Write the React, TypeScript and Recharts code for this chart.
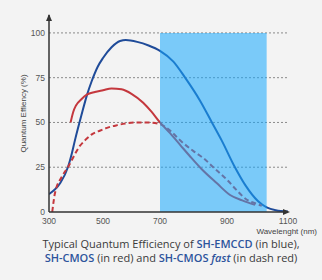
import React from 'react';
import { LineChart, Line, XAxis, YAxis, CartesianGrid, ReferenceArea, ReferenceDot } from 'recharts';

const wavelengthTicks = [300, 500, 700, 900, 1100];
const qeTicks = [0, 25, 50, 75, 100];

// SH-EMCCD (blue)
const emccdNm = [300, 341, 370, 385, 396, 420, 440, 458, 480, 500, 530, 560, 580, 620, 660, 700, 740, 775, 820, 855, 884, 926, 960, 1002, 1030, 1060, 1100];
const emccdQe = [10, 16, 25, 33, 40, 54, 65, 73, 81, 86, 92, 95.5, 96, 95, 93, 90, 84, 75, 62, 50, 40, 25, 15, 6, 2.6, 1, 0.3];

// SH-CMOS (red)
const cmosNm = [380, 390, 400, 420, 440, 470, 500, 530, 565, 600, 641, 670, 700, 730, 760, 790, 824, 870, 910, 950, 992];
const cmosQe = [50, 56, 59.5, 63, 65.5, 67, 68, 69, 68.5, 66, 61, 56, 50, 44, 37.5, 31, 24, 16, 9.5, 6.5, 4];

// SH-CMOS fast (dash red)
const fastNm = [312, 322, 347, 370, 415, 433, 460, 490, 514, 550, 578, 620, 658, 700, 730, 760, 800, 830, 859, 900, 930, 964, 990, 1014];
const fastQe = [0, 10.5, 19.5, 25, 37, 40, 43.5, 45.5, 47, 48.5, 49.4, 50, 50, 49, 45.5, 40, 34, 30, 25, 18, 12.5, 7, 5, 3.5];

// highlighted band
const bandNm = [700, 1030];

const toPoints = (nm: number[], qe: number[]) => nm.map((x, i) => ({ nm: x, qe: qe[i] }));

// labels on the original axis are not evenly spaced
const tickGaps = [54, 57, 67, 61];

function unevenScale(): any {
  let dom = [wavelengthTicks[0], wavelengthTicks[wavelengthTicks.length - 1]];
  let rng = [0, 1];
  const total = tickGaps.reduce((a, b) => a + b, 0);
  const s: any = (v: number) => {
    let i = 0;
    while (i < tickGaps.length - 1 && v > wavelengthTicks[i + 1]) i++;
    const before = tickGaps.slice(0, i).reduce((a, b) => a + b, 0);
    const t = (before + ((v - wavelengthTicks[i]) / (wavelengthTicks[i + 1] - wavelengthTicks[i])) * tickGaps[i]) / total;
    return rng[0] + t * (rng[1] - rng[0]);
  };
  s.domain = (d?: number[]) => {
    if (!d) return dom;
    dom = d;
    return s;
  };
  s.range = (r?: number[]) => {
    if (!r) return rng;
    rng = r;
    return s;
  };
  s.copy = () => unevenScale().domain(dom).range(rng);
  s.ticks = () => wavelengthTicks;
  return s;
}

const xScale = unevenScale();

const tickStyle = { fill: '#555', fontSize: 8.5, fontFamily: '"Liberation Sans", Arial, sans-serif' };

const UpArrow = (p: any) => (
  <path d={`M${p.cx - 3},${p.cy + 6} L${p.cx},${p.cy - 1} L${p.cx + 3},${p.cy + 6} Z`} fill="#333" />
);
const RightArrow = (p: any) => (
  <path d={`M${p.cx - 5},${p.cy - 3} L${p.cx + 2},${p.cy} L${p.cx - 5},${p.cy + 3} Z`} fill="#333" />
);

const XLabel = (props: any) => {
  const { viewBox } = props;
  return (
    <text
      x={viewBox.x + viewBox.width + 29}
      y={viewBox.y + 22}
      textAnchor="end"
      fill="#444"
      fontSize={8}
      fontFamily='"Liberation Sans", Arial, sans-serif'
    >
      Wavelenght (nm)
    </text>
  );
};

const blueText = { color: '#2d549c', fontWeight: 600 };

export default function App() {
  return (
    <div style={{ position: 'absolute', left: 0, top: 0, width: 322, height: 280, background: '#f3f3f3' }}>
      <LineChart width={322} height={236} margin={{ top: 15, right: 34, left: 0, bottom: 4 }}>
        <CartesianGrid horizontal vertical={false} horizontalValues={[25, 50, 75, 100]} stroke="#8a8a8a" strokeDasharray="2 2" />
        <XAxis
          dataKey="nm"
          type="number"
          scale={xScale}
          domain={[300, 1100]}
          ticks={wavelengthTicks}
          allowDataOverflow
          height={20}
          tickLine={false}
          tickSize={3}
          tickMargin={3}
          axisLine={{ stroke: '#333', strokeWidth: 1.5 }}
          tick={tickStyle}
          label={<XLabel />}
        />
        <YAxis
          type="number"
          domain={[0, 110]}
          ticks={qeTicks}
          width={49}
          tickLine={false}
          tickSize={2}
          tickMargin={2}
          axisLine={{ stroke: '#333', strokeWidth: 1.5 }}
          tick={tickStyle}
          label={{
            value: 'Quantum Effiency (%)',
            angle: -90,
            position: 'insideLeft',
            offset: 23,
            style: { textAnchor: 'middle', fill: '#444', fontSize: 8, fontFamily: '"Liberation Sans", Arial, sans-serif' },
          }}
        />
        <Line data={toPoints(emccdNm, emccdQe)} dataKey="qe" type="monotone" stroke="#1f4b99" strokeWidth={2} dot={false} isAnimationActive={false} />
        <Line data={toPoints(cmosNm, cmosQe)} dataKey="qe" type="monotone" stroke="#c4373d" strokeWidth={2} dot={false} isAnimationActive={false} />
        <Line data={toPoints(fastNm, fastQe)} dataKey="qe" type="monotone" stroke="#c4373d" strokeWidth={2} strokeDasharray="5 3" dot={false} isAnimationActive={false} />
        <ReferenceArea x1={bandNm[0]} x2={bandNm[1]} y1={0} y2={100} fill="#16a7fd" fillOpacity={0.55} stroke="none" zIndex={450} />
        <ReferenceDot x={300} y={110} r={0} shape={UpArrow} ifOverflow="visible" />
        <ReferenceDot x={1100} y={0} r={0} shape={RightArrow} ifOverflow="visible" />
      </LineChart>
      <div
        style={{
          position: 'absolute',
          left: 10,
          top: 237,
          width: 322,
          textAlign: 'center',
          fontFamily: '"Open Sans", sans-serif',
          fontSize: 11,
          lineHeight: '14px',
          color: '#3a3a3a',
        }}
      >
        Typical Quantum Efficiency of <span style={blueText}>SH-EMCCD</span> (in blue),
        <br />
        <span style={blueText}>SH-CMOS</span> (in red) and <span style={blueText}>SH-CMOS <i>fast</i></span> (in dash red)
      </div>
    </div>
  );
}
